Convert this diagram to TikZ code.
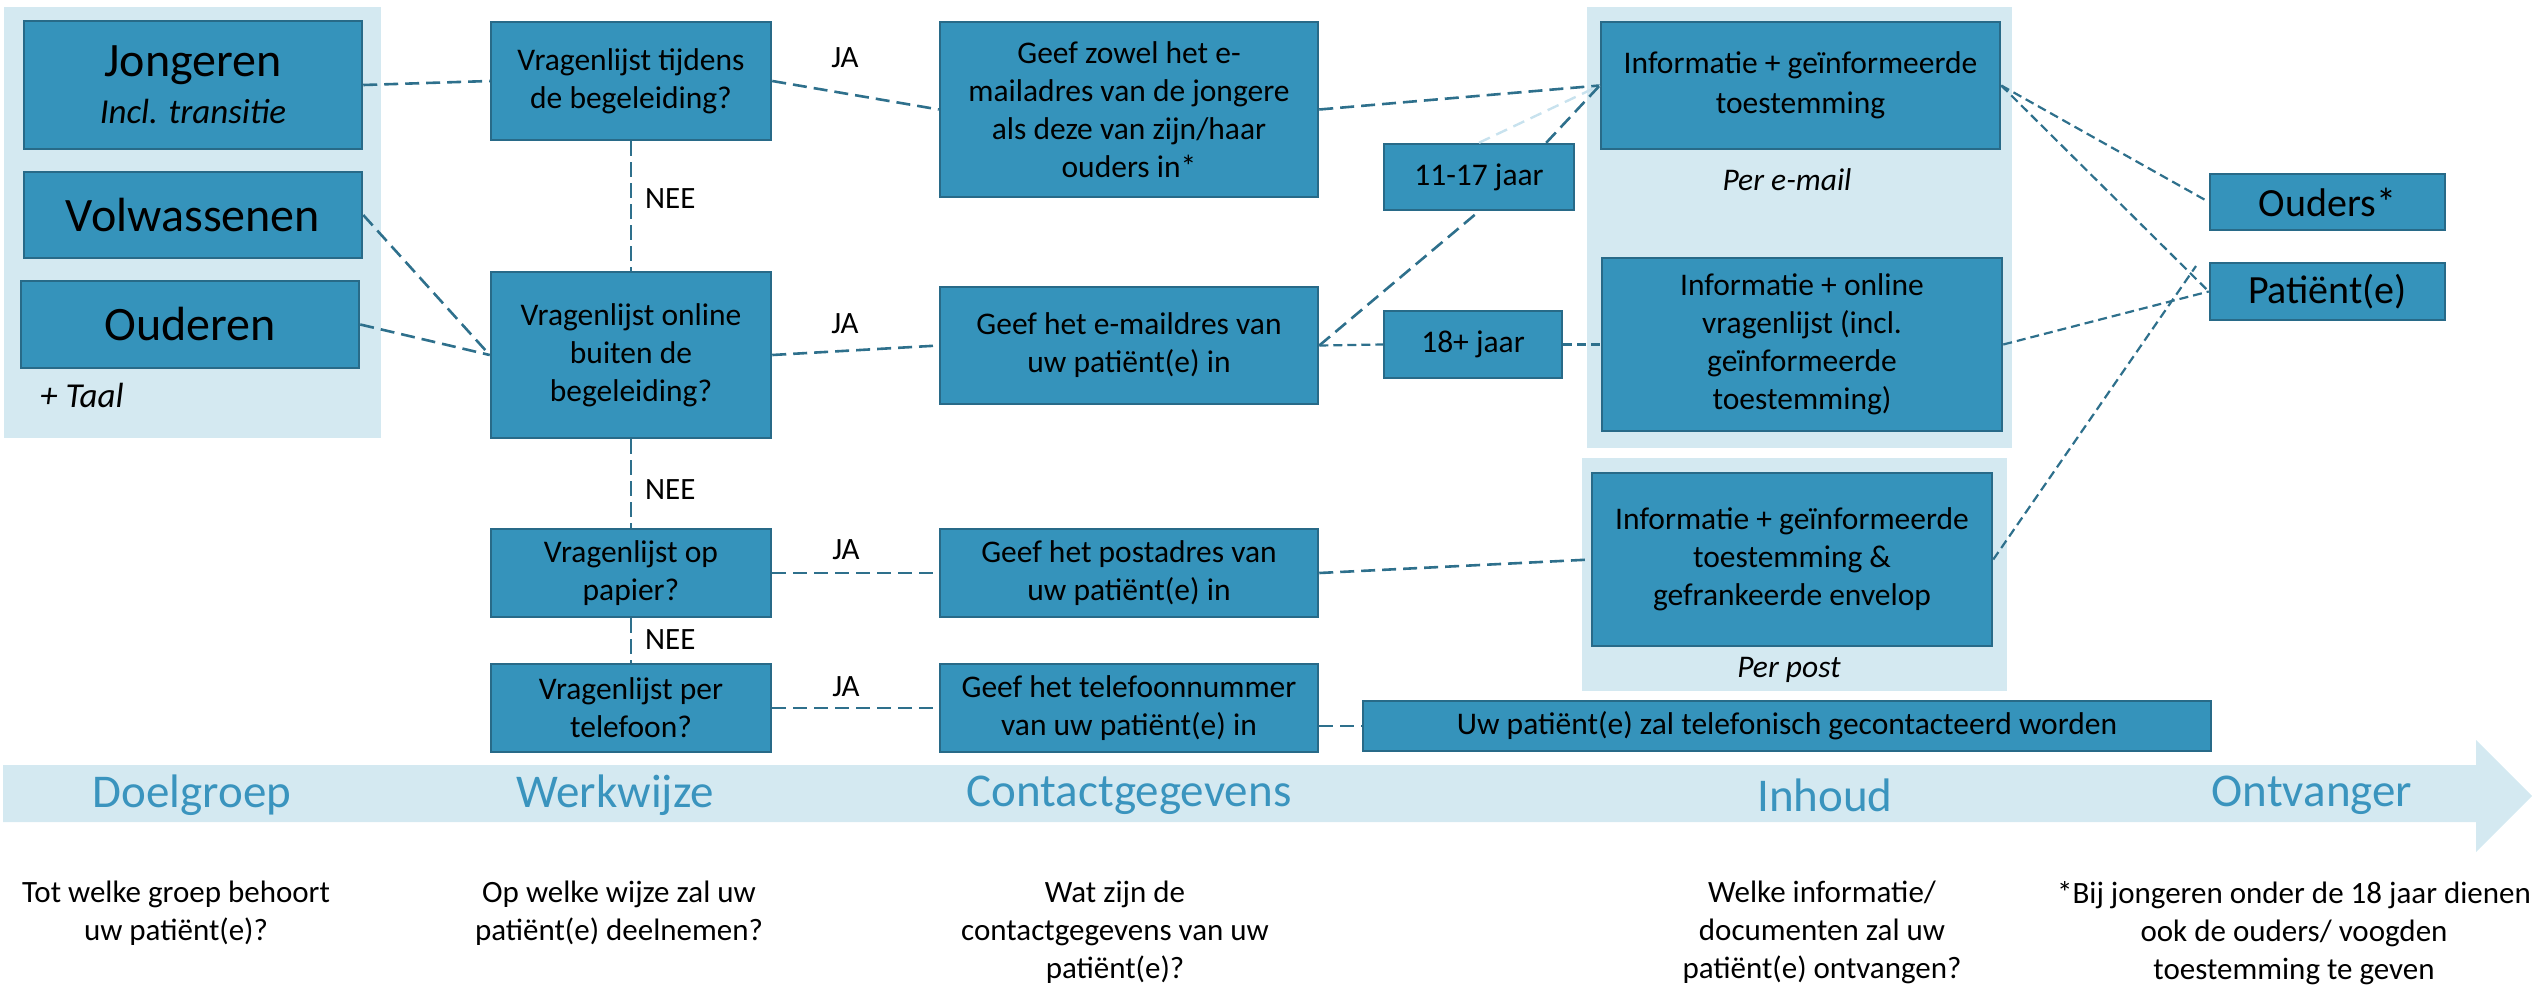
\documentclass[tikz,border=0pt]{standalone}
\usepackage{fontspec}
\setmainfont{Carlito}
\usetikzlibrary{calc}
\definecolor{boxfill}{RGB}{53,147,187}
\definecolor{boxline}{RGB}{40,106,136}
\definecolor{panel}{RGB}{212,233,241}
\definecolor{connclr}{RGB}{46,112,140}
\definecolor{lightconn}{RGB}{200,226,238}
\definecolor{labblue}{RGB}{58,148,190}
\tikzset{
  box/.style={draw=boxline, line width=2.5pt, fill=boxfill, inner sep=0pt, align=center, font=\fontsize{31.5}{38}\selectfont},
  conn/.style={draw=connclr, line width=2.6pt, dash pattern=on 14pt off 7pt},
  fine/.style={draw=connclr, line width=2.2pt, dash pattern=on 9pt off 5pt},
  vconn/.style={draw=connclr, line width=2pt, dash pattern=on 15pt off 6pt},
  lightline/.style={draw=lightconn, line width=2.4pt, dash pattern=on 12pt off 7pt},
  lbl/.style={inner sep=0pt, font=\fontsize{31}{38}\selectfont},
  axislbl/.style={inner sep=0pt, text=labblue, font=\fontsize{47}{52}\selectfont},
  bottomtxt/.style={inner sep=0pt, align=center, anchor=north, font=\fontsize{31}{38}\selectfont}
}
\begin{document}
\begin{tikzpicture}[x=1pt,y=-1pt]
\useasboundingbox (0,0) rectangle (2532,988);
% panels
\fill[panel] (4,7) rectangle (381,438);
\fill[panel] (1587,7) rectangle (2012,448);
\fill[panel] (1582,458) rectangle (2007,691);
% big arrow
\fill[panel] (3,765) -- (2476,765) -- (2476,740) -- (2532,796) -- (2476,852) -- (2476,822) -- (3,822) -- cycle;

% Doelgroep
\node[box, minimum width=338pt, minimum height=128pt, font=\fontsize{48}{47}\selectfont] (jong) at (193,85) {Jongeren\\{\fontsize{35}{38}\selectfont\itshape Incl. transitie}};
\node[box, minimum width=338pt, minimum height=86pt, font=\fontsize{48}{50}\selectfont] (volw) at (193,215) {Volwassenen};
\node[box, minimum width=338pt, minimum height=87pt, font=\fontsize{48}{50}\selectfont] (oud) at (190,324.5) {Ouderen};
\node[lbl, anchor=west, font=\fontsize{35}{38}\selectfont\itshape] (taal) at (40,395) {+ Taal};

% Werkwijze
\node[box, minimum width=280pt, minimum height=118pt] (q1) at (631,81) {Vragenlijst tijdens\\de begeleiding?};
\node[box, minimum width=280pt, minimum height=166pt] (q2) at (631,355) {Vragenlijst online\\buiten de\\begeleiding?};
\node[box, minimum width=280pt, minimum height=88pt] (q3) at (631,573) {Vragenlijst op\\papier?};
\node[box, minimum width=280pt, minimum height=88pt] (q4) at (631,708) {Vragenlijst per\\telefoon?};

% Contactgegevens
\node[box, minimum width=378pt, minimum height=175pt] (c1) at (1129,109.5) {Geef zowel het e-\\mailadres van de jongere\\als deze van zijn/haar\\ouders in*};
\node[box, minimum width=378pt, minimum height=117pt] (c2) at (1129,345.5) {Geef het e-maildres van\\uw patiënt(e) in};
\node[box, minimum width=378pt, minimum height=88pt] (c3) at (1129,573) {Geef het postadres van\\uw patiënt(e) in};
\node[box, minimum width=378pt, minimum height=88pt] (c4) at (1129,708) {Geef het telefoonnummer\\van uw patiënt(e) in};

% age boxes
\node[box, minimum width=190pt, minimum height=66pt] (age1) at (1479,177) {11-17 jaar};
\node[box, minimum width=178pt, minimum height=67pt] (age2) at (1473,344.5) {18+ jaar};

% Inhoud
\node[box, minimum width=399pt, minimum height=127pt, font=\fontsize{31.5}{40}\selectfont] (i1) at (1800.5,85.5) {Informatie + geïnformeerde\\toestemming};
\node[lbl, font=\fontsize{31.5}{38}\selectfont\itshape] (permail) at (1787,180) {Per e-mail};
\node[box, minimum width=400pt, minimum height=173pt] (i2) at (1802,344.5) {Informatie + online\\vragenlijst (incl.\\geïnformeerde\\toestemming)};
\node[box, minimum width=400pt, minimum height=173pt] (i3) at (1792,559.5) {Informatie + geïnformeerde\\toestemming \&\\gefrankeerde envelop};
\node[lbl, font=\fontsize{31.5}{38}\selectfont\itshape] (perpost) at (1789,670) {Per post};
\node[box, minimum width=848pt, minimum height=50pt] (long) at (1787,726) {Uw patiënt(e) zal telefonisch gecontacteerd worden};

% Ontvanger
\node[box, minimum width=235pt, minimum height=56pt, font=\fontsize{40}{44}\selectfont] (ouders) at (2327.5,202) {Ouders*};
\node[box, minimum width=235pt, minimum height=57pt, font=\fontsize{40}{44}\selectfont] (pat) at (2327.5,291.5) {Patiënt(e)};
\coordinate (patend) at (2196,266);

% connectors: doelgroep -> werkwijze
\draw[conn] (jong.east) -- (q1.west);
\draw[conn] (volw.east) -- (q2.west);
\draw[conn] (oud.east) -- (q2.west);
% NEE chain
\draw[vconn] (q1.south) -- (q2.north);
\draw[vconn] (q2.south) -- (q3.north);
\draw[vconn] (q3.south) -- (q4.north);
\node[lbl, anchor=west] (nee1) at (645,199) {NEE};
\node[lbl, anchor=west] (nee2) at (645,490) {NEE};
\node[lbl, anchor=west] (nee3) at (645,640) {NEE};
% JA
\draw[conn] (q1.east) -- (c1.west);
\draw[conn] (q2.east) -- (c2.west);
\draw[conn] (q3.east) -- (c3.west);
\draw[conn] (q4.east) -- (c4.west);
\node[lbl] (ja1) at (845,58) {JA};
\node[lbl] (ja2) at (845,324) {JA};
\node[lbl] (ja3) at (846,550) {JA};
\node[lbl] (ja4) at (846,687) {JA};
% contact -> inhoud
\draw[conn] (c1.east) -- (i1.west);
\draw[lightline] (age1.north) -- (i1.west);
\draw[conn] (c2.east) -- (age1.south);
\draw[conn] (age1.27) -- (i1.west);
\draw[fine] (c2.east) -- (age2.west);
\draw[fine] (age2.east) -- (i2.west);
\draw[conn] (c3.east) -- (i3.west);
\draw[conn] (long.west -| c4.east) -- (long.west);
% inhoud -> ontvanger
\draw[fine] (i1.east) -- (ouders.west);
\draw[fine] (i1.east) -- (pat.west);
\draw[fine] (i2.east) -- (pat.west);
\draw[fine] (i3.east) -- (patend);

% axis labels
\node[axislbl] (ax1) at (192,795) {Doelgroep};
\node[axislbl] (ax2) at (615,795) {Werkwijze};
\node[axislbl] (ax3) at (1129,795) {Contactgegevens};
\node[axislbl] (ax4) at (1825,795) {Inhoud};
\node[axislbl] (ax5) at (2312,795) {Ontvanger};

% bottom questions
\node[bottomtxt] (b1) at (176,881) {Tot welke groep behoort\\uw patiënt(e)?};
\node[bottomtxt] (b2) at (619,881) {Op welke wijze zal uw\\patiënt(e) deelnemen?};
\node[bottomtxt] (b3) at (1115,881) {Wat zijn de\\contactgegevens van uw\\patiënt(e)?};
\node[bottomtxt] (b4) at (1822,881) {Welke informatie/\\documenten zal uw\\patiënt(e) ontvangen?};
\node[bottomtxt] (b5) at (2294,881) {*Bij jongeren onder de 18 jaar dienen\\ook de ouders/ voogden\\toestemming te geven};
\end{tikzpicture}
\end{document}
